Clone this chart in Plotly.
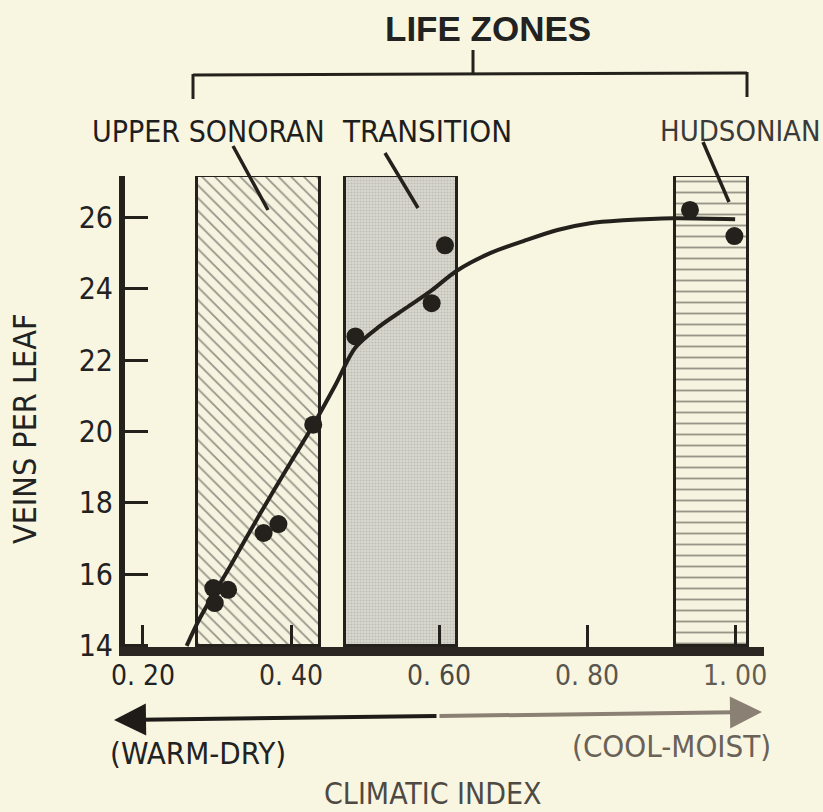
import plotly.graph_objects as go

# ---------------- data ----------------
zone_names = ["UPPER SONORAN", "TRANSITION", "HUDSONIAN"]
zone_lo = [0.273, 0.473, 0.919]
zone_hi = [0.439, 0.624, 1.018]
zone_base = 14.0
zone_top = 27.15

pt_x = [0.295, 0.315, 0.297, 0.363, 0.383, 0.430, 0.487, 0.590, 0.608, 0.939, 0.999]
pt_y = [15.62, 15.57, 15.20, 17.16, 17.41, 20.19, 22.66, 23.59, 25.21, 26.20, 25.47]

curve_x = [0.259, 0.277, 0.318, 0.358, 0.399, 0.430, 0.460, 0.487, 0.520, 0.555, 0.590,
           0.624, 0.669, 0.714, 0.760, 0.804, 0.849, 0.916, 1.000]
curve_y = [14.0, 14.78, 16.24, 17.69, 19.12, 20.18, 21.3, 22.35, 22.95, 23.45, 23.95,
           24.5, 24.99, 25.33, 25.64, 25.83, 25.91, 25.97, 25.94]

x_tickvals = [0.20, 0.40, 0.60, 0.80, 1.00]
x_ticktext = ["0. 20", "0. 40", "0. 60", "0. 80", "1. 00"]
x_tickcolors = ["#222222", "#2e2e2e", "#4a4844", "#5a554e", "#645d54"]
y_tickvals = [14, 16, 18, 20, 22, 24, 26]

# ---------------- geometry helpers ----------------
W, H = 823, 812
L, PW = 125, 639
T, PH = 176, 471
BOT = T + PH


def px(xp):
    return (xp - L) / PW


def py(yp):
    return (BOT - yp) / PH


BG = "#f8f6e1"
INK = "#24201c"
FONT = "Liberation Sans Narrow, DejaVu Sans Condensed, Arial Narrow, sans-serif"

fig = go.Figure()

patterns = [
    dict(shape="\\", size=9, solidity=0.2, fgcolor="#3a3632", bgcolor="#f6f4e0"),
    dict(shape=".", size=3, solidity=0.4, fgcolor="#a6a59d", bgcolor="#d9d8cf"),
    dict(shape="-", size=11, solidity=0.17, fgcolor="#3a3632", bgcolor="#f6f4e0"),
]
for i, name in enumerate(zone_names):
    fig.add_trace(go.Bar(
        x=[(zone_lo[i] + zone_hi[i]) / 2],
        y=[zone_top - zone_base],
        base=[zone_base],
        width=[zone_hi[i] - zone_lo[i]],
        marker=dict(color=patterns[i]["bgcolor"], pattern=patterns[i],
                    line=dict(color=INK, width=3)),
        showlegend=False, hoverinfo="skip",
    ))

fig.add_trace(go.Scatter(
    x=curve_x, y=curve_y, mode="lines",
    line=dict(color=INK, width=4, shape="spline", smoothing=0.9),
    showlegend=False, hoverinfo="skip",
))
fig.add_trace(go.Scatter(
    x=pt_x, y=pt_y, mode="markers",
    marker=dict(color=INK, size=18, line=dict(width=0)),
    showlegend=False,
))

fig.update_layout(
    width=W, height=H,
    margin=dict(l=L, r=W - L - PW, t=T, b=H - BOT),
    paper_bgcolor=BG, plot_bgcolor=BG,
    barmode="overlay", bargap=0,
    font=dict(family=FONT, color=INK),
)
fig.update_xaxes(
    range=[0.1757, 1.039], showgrid=False, zeroline=False,
    showline=True, linewidth=9, linecolor="#2b2622",
    ticks="inside", ticklen=22, tickwidth=2.5, tickcolor=INK,
    tickvals=x_tickvals,
    ticktext=[f"<span style='color:{c}'>{t}</span>" for t, c in zip(x_ticktext, x_tickcolors)],
    tickfont=dict(size=28, family=FONT),
    ticklabelstandoff=-5,
)
fig.update_yaxes(
    range=[13.97, 27.15], showgrid=False, zeroline=False,
    showline=True, linewidth=6, linecolor=INK,
    ticks="inside", ticklen=23, tickwidth=2.5, tickcolor=INK,
    tickvals=y_tickvals,
    tickfont=dict(size=30, family=FONT, color="#222222"),
)

shapes = []


def seg(x0, y0, x1, y1, w=3, color=INK):
    shapes.append(dict(type="line", xref="paper", yref="paper",
                       x0=px(x0), y0=py(y0), x1=px(x1), y1=py(y1),
                       line=dict(color=color, width=w)))


# bracket
seg(193, 75, 747, 73)
seg(193, 74, 193, 99)
seg(747, 72, 747, 97)
seg(473, 50, 473, 75)
# leaders
seg(233, 146, 268, 210, 3.5)
seg(385, 153, 418, 208, 3.5)
seg(703, 142, 729, 202, 3.5)
fig.update_layout(shapes=shapes)

ann = []


def text(s, x, y, size, color=INK, bold=False, angle=0):
    ann.append(dict(text=f"<b>{s}</b>" if bold else s, xref="paper", yref="paper",
                    x=px(x), y=py(y), xanchor="center", yanchor="middle",
                    showarrow=False, textangle=angle,
                    font=dict(size=size, color=color,
                              family="Liberation Sans, Arial, sans-serif" if bold else FONT)))


text("LIFE ZONES", 488, 28, 35, "#222222", bold=True)
text(zone_names[0], 208, 131, 30, "#1e1e1e")
text(zone_names[1], 427, 131, 31, "#1e1e1e")
text(zone_names[2], 740, 131, 29, "#3a3a3a")
text("(WARM-DRY)", 198, 753, 31, "#222222")
text("(COOL-MOIST)", 671, 746, 31, "#6a6258")
text("CLIMATIC INDEX", 433, 793, 30, "#4e4943")
text("VEINS PER LEAF", 25, 429, 32, "#222222", angle=-90)

# double arrow
ann.append(dict(xref="paper", yref="paper", x=px(114), y=py(720), ax=324, ay=-4,
                showarrow=True, arrowhead=2, arrowsize=1.6, arrowwidth=4,
                arrowcolor="#1e1b18", text=""))
ann.append(dict(xref="paper", yref="paper", x=px(762), y=py(712), ax=-324, ay=4,
                showarrow=True, arrowhead=2, arrowsize=1.6, arrowwidth=4,
                arrowcolor="#8a8074", text=""))
fig.update_layout(annotations=ann)

fig.write_html(
    "out.html",
    config={"displayModeBar": False},
    post_script=(
        "document.body.style.margin='0';"
        "document.body.style.overflow='hidden';"
        "document.body.style.background='" + BG + "';"
        "document.documentElement.style.background='" + BG + "';"
    ),
)
